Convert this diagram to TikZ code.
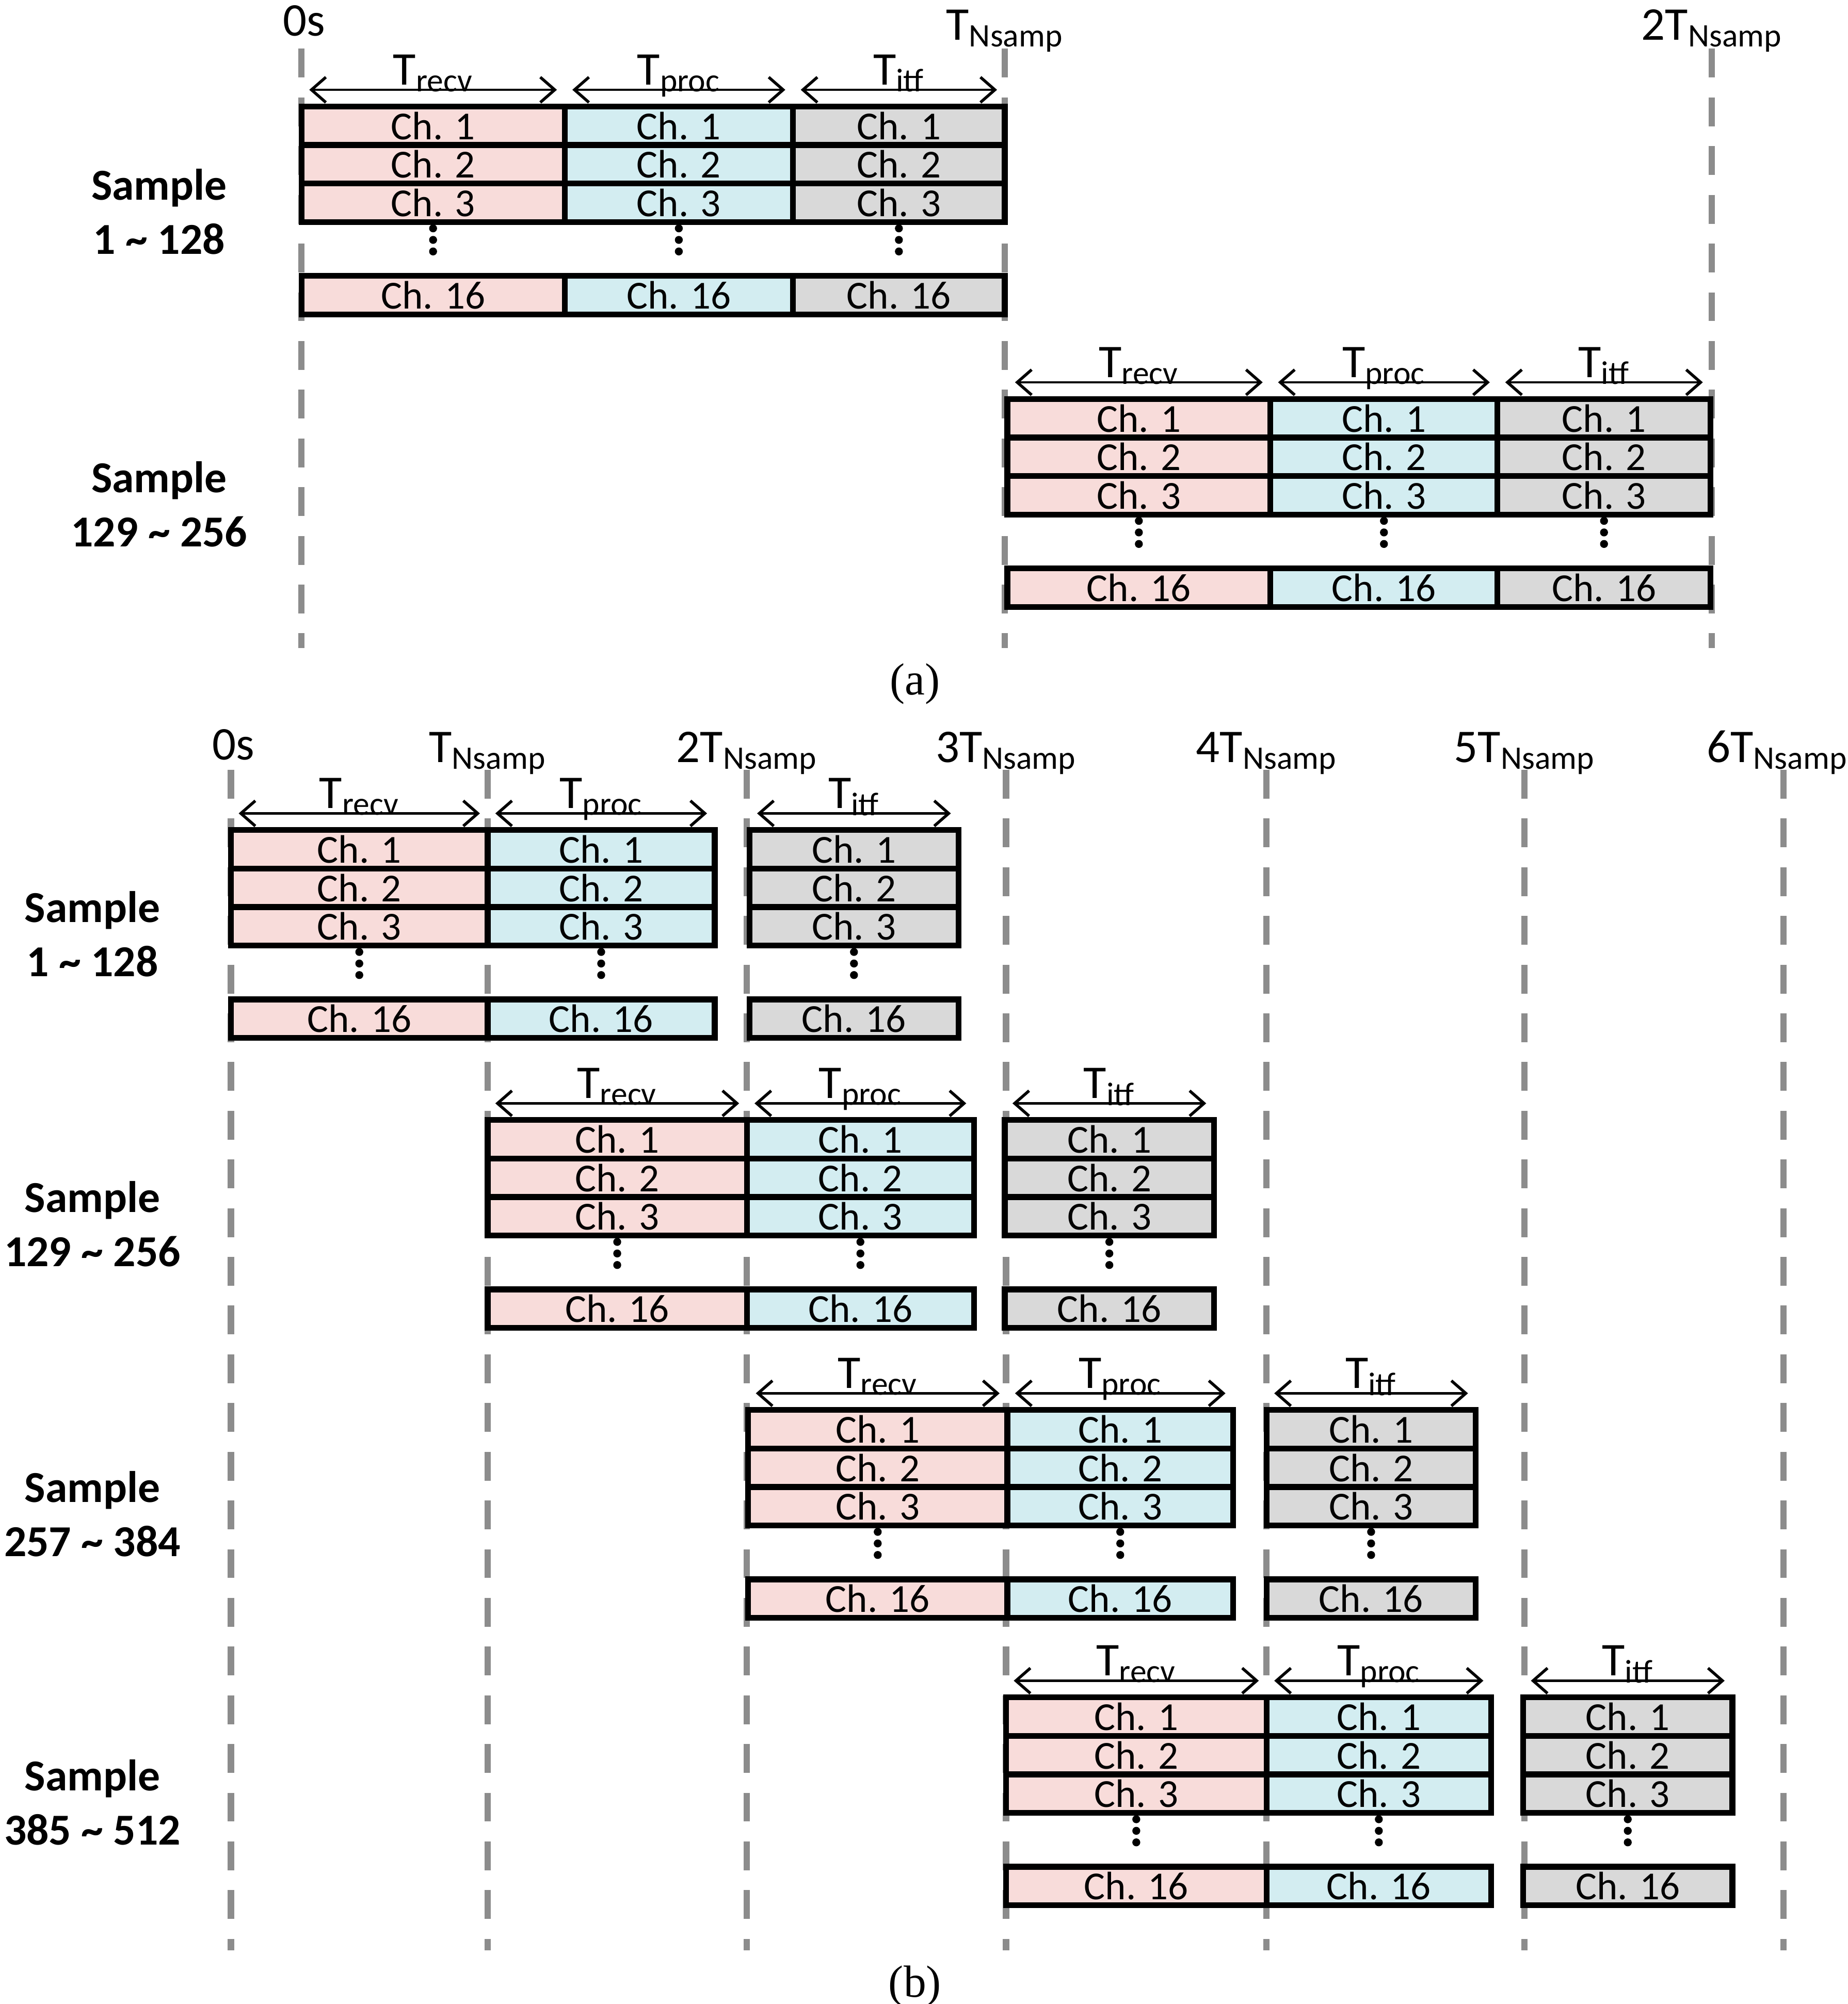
\documentclass[tikz,border=0pt]{standalone}
\usepackage{fontspec}
\setmainfont{Carlito}
\newfontfamily\capfont{Liberation Serif}
\usetikzlibrary{arrows.meta}
\definecolor{cred}{HTML}{F8DCDA}
\definecolor{cblue}{HTML}{D3EDF1}
\definecolor{cgrey}{HTML}{D9D9D9}
\definecolor{vline}{HTML}{8C8C8C}
\tikzset{
 cell/.style={draw=black,line width=3.2pt},
 celltxt/.style={font=\fontsize{22}{26}\selectfont,inner sep=0pt},
 tlab/.style={font=\fontsize{26}{30}\selectfont,inner sep=0pt},
 ticklab/.style={font=\fontsize{26}{30}\selectfont,inner sep=0pt,anchor=base},
 samp/.style={font=\bfseries\fontsize{24.5}{30}\selectfont,align=center,inner sep=0pt},
 span/.style={line width=1.2pt,{Straight Barb[length=8pt,width=14pt,line width=1.6pt]}-{Straight Barb[length=8pt,width=14pt,line width=1.6pt]}},
 grid/.style={vline,line width=3.5pt,dash pattern=on 16pt off 11pt},
}
\newcommand{\col}[6]{% prefix, top, xa, xb, fill, Tlabel
  \foreach \i/\lab in {1/Ch. 1,2/Ch. 2,3/Ch. 3}{
    \filldraw[cell,fill=#5] (#3,{#2+(\i-1)*30}) rectangle (#4,{#2+\i*30});
    \node[celltxt] (#1r\i) at ({(#3+#4)/2},{#2+(\i-0.5)*30}) {\lab};
  }
  \filldraw[cell,fill=#5] (#3,{#2+132}) rectangle (#4,{#2+162});
  \node[celltxt] (#1r16) at ({(#3+#4)/2},{#2+147}) {Ch. 16};
  \foreach \d in {95,104,113} \fill ({(#3+#4)/2},{#2+\d}) circle (2.2pt);
  \coordinate (#1aL) at ({#3+6},{#2-13});
  \coordinate (#1aR) at ({#4-6},{#2-13});
  \draw[span] (#1aL) -- (#1aR);
  \node[tlab,anchor=base] (#1T) at ({(#3+#4)/2},{#2-17}) {#6};
}
\newcommand{\blk}[7]{% name, top, x0,x1,x2,x3,x4
  \col{#1a}{#2}{#3}{#4}{cred}{T\textsubscript{recv}}
  \col{#1b}{#2}{#4}{#5}{cblue}{T\textsubscript{proc}}
  \col{#1c}{#2}{#6}{#7}{cgrey}{T\textsubscript{itf}}
}
\begin{document}
\begin{tikzpicture}[x=0.025cm,y=-0.025cm]
\useasboundingbox (0,0) rectangle (1440,1562);
% (a)
\foreach \x/\n in {235/a0,783/a1,1334/a2} \draw[grid] (\x,38) coordinate (g\n t) -- (\x,505) coordinate (g\n b);
\node[ticklab] (la0) at (237,28) {0s};
\node[ticklab] (la1) at (783,31) {T\textsubscript{Nsamp}};
\node[ticklab] (la2) at (1334,31) {2T\textsubscript{Nsamp}};
\blk{A}{83}{235}{440}{618}{618}{783}
\blk{B}{311}{785}{990}{1167}{1167}{1333}
\node[samp] (sA) at (124,165) {Sample\\1 \textasciitilde{} 128};
\node[samp] (sB) at (124,393) {Sample\\129 \textasciitilde{} 256};
\node[font=\capfont\fontsize{25}{28}\selectfont] (capa) at (713,533) {(a)};
% (b)
\foreach \x/\n in {180/b0,380/b1,582/b2,784/b3,987/b4,1188/b5,1390/b6}
  \draw[grid] (\x,600) coordinate (g\n t) -- (\x,1520) coordinate (g\n b);
\node[ticklab] (lb0) at (182,592) {0s};
\foreach \x/\m/\n in {380/{}/b1,582/2/b2,784/3/b3,987/4/b4,1188/5/b5,1385/6/b6}
  \node[ticklab] (l\n) at (\x,594) {\m T\textsubscript{Nsamp}};
\blk{C}{647}{180}{380}{557}{584}{747}
\blk{D}{873}{380}{582}{759}{783}{946}
\blk{E}{1099}{583}{785}{961}{987}{1150}
\blk{F}{1323}{784}{987}{1162}{1187}{1350}
\node[samp] (sC) at (72,728) {Sample\\1 \textasciitilde{} 128};
\node[samp] (sD) at (72,954) {Sample\\129 \textasciitilde{} 256};
\node[samp] (sE) at (72,1180) {Sample\\257 \textasciitilde{} 384};
\node[samp] (sF) at (72,1405) {Sample\\385 \textasciitilde{} 512};
\node[font=\capfont\fontsize{25}{28}\selectfont] (capb) at (713,1548) {(b)};
\end{tikzpicture}
\end{document}
